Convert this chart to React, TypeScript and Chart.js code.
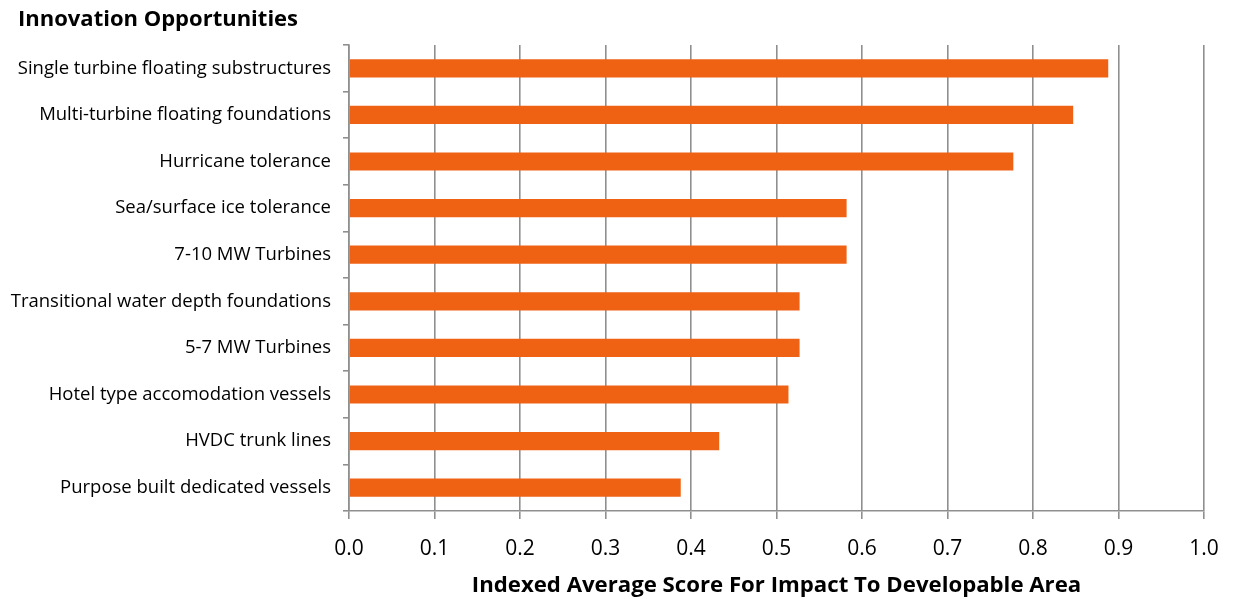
import React, { useEffect, useRef } from "react";
import { Chart, registerables } from "chart.js";

Chart.register(...registerables);

const categories = [
  "Single turbine floating substructures",
  "Multi-turbine floating foundations",
  "Hurricane tolerance",
  "Sea/surface ice tolerance",
  "7-10 MW Turbines",
  "Transitional water depth foundations",
  "5-7 MW Turbines",
  "Hotel type accomodation vessels",
  "HVDC trunk lines",
  "Purpose built dedicated vessels",
];

const scores = [0.888, 0.847, 0.777, 0.582, 0.582, 0.527, 0.527, 0.514, 0.433, 0.388];

const xTicks = [0, 0.1, 0.2, 0.3, 0.4, 0.5, 0.6, 0.7, 0.8, 0.9, 1.0];

const chartTitle = "Innovation Opportunities";
const xAxisTitle = "Indexed Average Score For Impact To Developable Area";

const FONT = "'Open Sans', Lato, sans-serif";
const GRID = "#8f8f8f";
const BAR = "#EF6214";

const titleShift = {
  id: "titleShift",
  afterLayout(chart: any) {
    if (chart.titleBlock) chart.titleBlock.left += 18;
  },
};

export default function App() {
  const ref = useRef<HTMLCanvasElement | null>(null);

  useEffect(() => {
    document.body.style.margin = "0";
    const canvas = ref.current;
    if (!canvas) return;
    const chart = new Chart(canvas, {
      type: "bar",
      data: {
        labels: categories,
        datasets: [
          {
            data: scores,
            backgroundColor: BAR,
            borderWidth: 0,
            barPercentage: 0.39,
            categoryPercentage: 1,
          },
        ],
      },
      plugins: [titleShift],
      options: {
        indexAxis: "y",
        animation: false,
        responsive: false,
        maintainAspectRatio: false,
        layout: { padding: { left: 0, right: 29, top: 0, bottom: 0 } },
        plugins: {
          legend: { display: false },
          tooltip: { enabled: false },
          title: {
            display: true,
            text: chartTitle,
            align: "start",
            color: "#000",
            font: { family: FONT, size: 22, weight: "bold" },
            padding: { top: 7, bottom: 11.6 },
          },
        },
        scales: {
          x: {
            type: "linear",
            min: 0,
            max: 1,
            afterBuildTicks: (scale: any) => {
              scale.ticks = xTicks.map((v) => ({ value: v }));
            },
            afterFit: (scale: any) => {
              scale.height = 88;
              scale.paddingRight = 0;
              scale.paddingLeft = 0;
            },
            ticks: {
              color: "#000",
              font: { family: FONT, size: 21 },
              padding: 17,
              callback: (v: any) => Number(v).toFixed(1),
              maxRotation: 0,
            },
            grid: {
              color: GRID,
              lineWidth: 1.6,
              tickLength: 8,
            },
            border: { display: true, color: GRID, width: 1.6 },
            title: {
              display: true,
              text: xAxisTitle,
              color: "#000",
              font: { family: FONT, size: 22.2, weight: "bold" },
              padding: { top: 4, bottom: 0.5 },
            },
          },
          y: {
            type: "category",
            offset: true,
            afterFit: (scale: any) => {
              scale.width = 349;
            },
            ticks: {
              color: "#000",
              font: { family: FONT, size: 18.5 },
              padding: 12,
            },
            grid: {
              offset: true,
              drawOnChartArea: false,
              color: GRID,
              lineWidth: 1.6,
              tickLength: 6,
            },
            border: { display: true, color: GRID, width: 1.6 },
          },
        },
      },
    });
    return () => chart.destroy();
  }, []);

  return (
    <div style={{ width: 1233, height: 599, background: "#fff" }}>
      <canvas ref={ref} width={1233} height={599} style={{ display: "block" }} />
    </div>
  );
}
